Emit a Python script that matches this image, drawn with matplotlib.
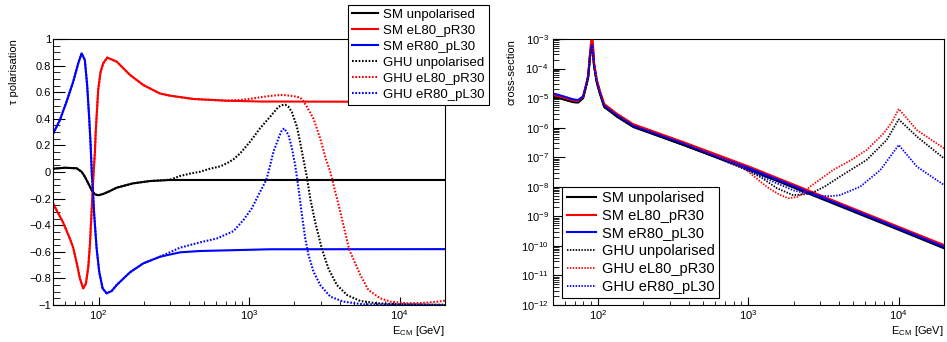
import matplotlib
matplotlib.use("Agg")
import matplotlib.pyplot as plt
from matplotlib.ticker import (LogLocator, NullFormatter, FuncFormatter,
                               MultipleLocator, LogFormatterSciNotation)

plt.rcParams['font.family'] = ['Liberation Sans', 'DejaVu Sans']
plt.rcParams['mathtext.fontset'] = 'custom'
plt.rcParams['mathtext.rm'] = 'Liberation Sans'
plt.rcParams['mathtext.it'] = 'Liberation Sans:italic'
plt.rcParams['mathtext.bf'] = 'Liberation Sans:bold'

labels = ["SM unpolarised", "SM eL80_pR30", "SM eR80_pL30",
          "GHU unpolarised", "GHU eL80_pR30", "GHU eR80_pL30"]

# ---------------- tau polarisation vs E_CM ----------------
sm_unpol_E = [50, 59.7, 71.4, 77.1, 81.0, 85.3, 89.8, 94.5, 99.4, 107.3, 118.9,
              131.8, 169.9, 219.4, 298.1, 500, 20000]
sm_unpol_P = [0.025, 0.032, 0.028, 0.002, -0.035, -0.085, -0.135, -0.168, -0.175,
              -0.165, -0.143, -0.118, -0.085, -0.068, -0.060, -0.060, -0.060]

sm_eL_E = [50, 58.1, 64.4, 67.8, 71.4, 75.1, 79.0, 82.3, 85.3, 87.5, 89.8, 92.1,
           94.5, 95.5, 97.0, 99.4, 103.1, 107.3, 114.1, 131.8, 161.6, 198.1,
           255.8, 298.1, 426.1, 710.6, 1184, 20000]
sm_eL_P = [-0.24, -0.38, -0.50, -0.57, -0.68, -0.80, -0.875, -0.84, -0.72, -0.55,
           -0.30, -0.05, 0.15, 0.28, 0.42, 0.62, 0.754, 0.817, 0.86, 0.83, 0.73,
           0.654, 0.59, 0.574, 0.549, 0.536, 0.53, 0.527]

sm_eR_E = [50, 55.3, 61.25, 67.8, 73.2, 77.1, 81.0, 83.9, 86.6, 88.5, 90.2, 91.2,
           93.5, 97.0, 100.9, 106.3, 113.0, 122.0, 131.8, 161.6, 198.1, 255.8,
           347.5, 472.1, 710.6, 1380, 20000]
sm_eR_P = [0.29, 0.391, 0.529, 0.679, 0.817, 0.892, 0.842, 0.654, 0.404, 0.203,
           -0.023, -0.098, -0.323, -0.574, -0.75, -0.875, -0.912, -0.895, -0.85,
           -0.754, -0.687, -0.637, -0.604, -0.594, -0.589, -0.581, -0.58]

ghu_unpol_E = [50, 59.7, 71.4, 77.1, 81.0, 85.3, 89.8, 94.5, 99.4, 107.3, 118.9,
               131.8, 169.9, 219.4, 298.1, 347.5, 405.1, 472.1, 550.2, 641.2,
               710.6, 786.4, 871.1, 1015, 1184, 1380, 1566, 1651, 1736, 1826,
               1924, 2077, 2184, 2298, 2421, 2546, 2749, 3046, 3370, 3832, 4467,
               5476, 7073, 10000, 20000]
ghu_unpol_P = [0.025, 0.032, 0.028, 0.002, -0.035, -0.085, -0.135, -0.168, -0.175,
               -0.165, -0.143, -0.118, -0.085, -0.068, -0.058, -0.03, -0.012,
               0.002, 0.025, 0.042, 0.065, 0.095, 0.14, 0.228, 0.33, 0.416, 0.49,
               0.502, 0.506, 0.49, 0.45, 0.34, 0.22, 0.09, -0.04, -0.2, -0.38,
               -0.58, -0.73, -0.85, -0.925, -0.97, -0.987, -0.995, -0.998]

ghu_eL_E = [50, 58.1, 64.4, 67.8, 71.4, 75.1, 79.0, 82.3, 85.3, 87.5, 89.8, 92.1,
            94.5, 95.5, 97.0, 99.4, 103.1, 107.3, 114.1, 131.8, 161.6, 198.1,
            255.8, 298.1, 426.1, 710.6, 871.1, 1015, 1184, 1380, 1608, 1736,
            1971, 2184, 2298, 2421, 2678, 2968, 3230, 3459, 3551, 4032, 4628,
            5476, 6190, 7438, 8673, 11200, 14000, 17740, 20000]
ghu_eL_P = [-0.24, -0.38, -0.50, -0.57, -0.68, -0.80, -0.875, -0.84, -0.72, -0.55,
            -0.30, -0.05, 0.15, 0.28, 0.42, 0.62, 0.754, 0.817, 0.86, 0.83, 0.73,
            0.654, 0.59, 0.574, 0.549, 0.536, 0.542, 0.55, 0.562, 0.572, 0.579,
            0.578, 0.57, 0.56, 0.53, 0.49, 0.40, 0.25, 0.10, 0.0, -0.05, -0.30,
            -0.586, -0.774, -0.887, -0.95, -0.975, -0.987, -0.985, -0.975, -0.968]

ghu_eR_E = [50, 55.3, 61.25, 67.8, 73.2, 77.1, 81.0, 83.9, 86.6, 88.5, 90.2, 91.2,
            93.5, 97.0, 100.9, 106.3, 113.0, 122.0, 131.8, 161.6, 198.1, 255.8,
            347.5, 472.1, 609.6, 786.4, 916.4, 1042, 1153, 1298, 1344, 1380,
            1451, 1566, 1651, 1710, 1826, 1924, 2023, 2128, 2242, 2358, 2480,
            2678, 2968, 3459, 4241, 5762, 20000]
ghu_eR_P = [0.29, 0.391, 0.529, 0.679, 0.817, 0.892, 0.842, 0.654, 0.404, 0.203,
            -0.023, -0.098, -0.323, -0.574, -0.75, -0.875, -0.912, -0.895, -0.85,
            -0.754, -0.687, -0.637, -0.569, -0.529, -0.50, -0.445, -0.361,
            -0.273, -0.173, -0.06, 0.0, 0.053, 0.153, 0.253, 0.316, 0.328,
            0.278, 0.178, 0.05, -0.123, -0.323, -0.5, -0.624, -0.75, -0.85,
            -0.937, -0.975, -0.995, -1.0]

# ---------------- cross-section vs E_CM ----------------
xs_sm_E = [50, 58.7, 68.4, 73.8, 79.7, 83.9, 86.1, 88.3, 90.0, 91.2, 92.4, 94.0,
           98.0, 103, 110, 120, 133, 172, 369, 1023, 3000, 10000, 20000]
xs_sm_unpol = [1.12e-5, 9.1e-6, 7.3e-6, 7.1e-6, 1.0e-5, 2.8e-5, 5.0e-5, 2.2e-4,
               4.6e-4, 5.5e-4, 4.6e-4, 1.3e-4, 3.5e-5, 1.4e-5, 5.0e-6, 3.6e-6,
               2.4e-6, 1.05e-6, 2.6e-7, 3.7e-8, 4.1e-9, 3.5e-10, 8.3e-11]
xs_sm_eL = [1.3e-5, 1.05e-5, 8.3e-6, 8.0e-6, 1.1e-5, 3.2e-5, 6.0e-5, 2.8e-4,
            8.0e-4, 1.15e-3, 8.0e-4, 1.7e-4, 4.3e-5, 1.75e-5, 6.3e-6, 4.5e-6,
            3.0e-6, 1.3e-6, 3.25e-7, 4.7e-8, 5.2e-9, 4.4e-10, 1.07e-10]
xs_sm_eR = [1.45e-5, 1.15e-5, 9.0e-6, 8.6e-6, 1.15e-5, 3.1e-5, 5.5e-5, 2.4e-4,
            5.2e-4, 6.3e-4, 5.2e-4, 1.45e-4, 3.9e-5, 1.55e-5, 5.6e-6, 4.0e-6,
            2.7e-6, 1.15e-6, 2.9e-7, 4.15e-8, 4.6e-9, 3.9e-10, 9.3e-11]

xs_ghu_unpol_E = [50, 58.7, 68.4, 73.8, 79.7, 83.9, 86.1, 88.3, 90.0, 91.2, 92.4,
                  94.0, 98.0, 103, 110, 120, 133, 172, 369, 600, 800, 1023, 1250,
                  1545, 1987, 2400, 2703, 3200, 4059, 6120, 8300, 10000, 13200,
                  20000]
xs_ghu_unpol = [1.12e-5, 9.1e-6, 7.3e-6, 7.1e-6, 1.0e-5, 2.8e-5, 5.0e-5, 2.2e-4,
                4.6e-4, 5.5e-4, 4.6e-4, 1.3e-4, 3.5e-5, 1.4e-5, 5.0e-6, 3.6e-6,
                2.4e-6, 1.05e-6, 2.6e-7, 1.0e-7, 5.6e-8, 3.3e-8, 1.9e-8, 9.0e-9,
                5.2e-9, 5.6e-9, 6.5e-9, 1.0e-8, 2.2e-8, 8.1e-8, 3.8e-7, 1.9e-6,
                5.0e-7, 9.1e-8]

xs_ghu_eL_E = [50, 58.7, 68.4, 73.8, 79.7, 83.9, 86.1, 88.3, 90.0, 91.2, 92.4,
               94.0, 98.0, 103, 110, 120, 133, 172, 369, 700, 924, 1325, 1600,
               1841, 2100, 2316, 2565, 3663, 4842, 6120, 7932, 9052, 10000,
               13200, 20000]
xs_ghu_eL = [1.3e-5, 1.05e-5, 8.3e-6, 8.0e-6, 1.1e-5, 3.2e-5, 6.0e-5, 2.8e-4,
             8.0e-4, 1.15e-3, 8.0e-4, 1.7e-4, 4.3e-5, 1.75e-5, 6.3e-6, 4.5e-6,
             3.0e-6, 1.3e-6, 3.25e-7, 8.5e-8, 4.5e-8, 1.0e-8, 5.5e-9, 4.1e-9,
             4.5e-9, 6.0e-9, 1.0e-8, 3.7e-8, 8.1e-8, 1.76e-7, 6.4e-7, 1.6e-6,
             4.3e-6, 8.3e-7, 2.0e-7]

xs_ghu_eR_E = [50, 58.7, 68.4, 73.8, 79.7, 83.9, 86.1, 88.3, 90.0, 91.2, 92.4,
               94.0, 98.0, 103, 110, 120, 133, 172, 369, 1023, 1500, 2000, 2500,
               2850, 3500, 4059, 5534, 7553, 10000, 13200, 20000]
xs_ghu_eR = [1.45e-5, 1.15e-5, 9.0e-6, 8.6e-6, 1.15e-5, 3.1e-5, 5.5e-5, 2.4e-4,
             5.2e-4, 6.3e-4, 5.2e-4, 1.45e-4, 3.9e-5, 1.55e-5, 5.6e-6, 4.0e-6,
             2.7e-6, 1.15e-6, 2.9e-7, 3.5e-8, 1.4e-8, 7.5e-9, 5.8e-9, 5.0e-9,
             4.8e-9, 5.2e-9, 1.0e-8, 3.7e-8, 2.6e-7, 4.8e-8, 1.15e-8]

W, H = 947, 342
fig = plt.figure(figsize=(W / 100, H / 100), dpi=100)
ax1 = fig.add_axes([53.3 / W, 1 - 305 / H, 391.7 / W, 266 / H])
ax2 = fig.add_axes([552.7 / W, 1 - 305 / H, 391.3 / W, 266 / H])

dot = (0, (0.8, 0.8))
styles = [dict(color='black', ls='-'), dict(color='red', ls='-'),
          dict(color='blue', ls='-'), dict(color='black', ls=dot),
          dict(color='red', ls=dot), dict(color='blue', ls=dot)]

left_series = [(sm_unpol_E, sm_unpol_P), (sm_eL_E, sm_eL_P), (sm_eR_E, sm_eR_P),
               (ghu_unpol_E, ghu_unpol_P), (ghu_eL_E, ghu_eL_P),
               (ghu_eR_E, ghu_eR_P)]
right_series = [(xs_sm_E, xs_sm_unpol), (xs_sm_E, xs_sm_eL), (xs_sm_E, xs_sm_eR),
                (xs_ghu_unpol_E, xs_ghu_unpol), (xs_ghu_eL_E, xs_ghu_eL),
                (xs_ghu_eR_E, xs_ghu_eR)]

h1, h2 = [], []
for (x, y), st, lab in zip(left_series, styles, labels):
    h1.append(ax1.plot(x, y, lw=1.5, label=lab, **st)[0])
for (x, y), st, lab in zip(right_series, styles, labels):
    lw = 1.5 if st['ls'] == '-' else 1.3
    h2.append(ax2.plot(x, y, lw=lw, label=lab, **st)[0])

for ax in (ax1, ax2):
    ax.set_xscale('log')
    ax.set_xlim(50, 20000)
    ax.xaxis.set_major_locator(LogLocator(base=10, numticks=10))
    ax.xaxis.set_minor_locator(LogLocator(base=10, subs=range(2, 10), numticks=50))
    ax.xaxis.set_minor_formatter(NullFormatter())
    ax.tick_params(which='both', direction='in', top=False, right=False,
                   labelsize=8, color='black')
    ax.tick_params(axis='x', which='major', length=6, pad=2)
    ax.tick_params(axis='x', which='minor', length=3)
    for s in ax.spines.values():
        s.set_linewidth(0.8)
    ax.set_xlabel(r'E$_{\mathrm{CM}}$ [GeV]', fontsize=8, loc='right')
    ax.xaxis.set_label_coords(1.0, -0.07)

ax1.set_ylim(-1, 1)
ax1.yaxis.set_major_locator(MultipleLocator(0.2))
ax1.yaxis.set_minor_locator(MultipleLocator(0.05))
ax1.yaxis.set_major_formatter(FuncFormatter(
    lambda v, p: ('%g' % round(v, 2)).replace('-', '\u2212') if abs(v) > 1e-9 else '0'))
ax1.tick_params(axis='y', which='major', length=8.4, pad=1.5)
ax1.tick_params(axis='y', which='minor', length=4.8)
ax1.set_ylabel('τ polarisation', fontsize=8, loc='top')
ax1.yaxis.set_label_coords(-0.0868, 1.0)

ax2.set_yscale('log')
ax2.set_ylim(1e-12, 1e-3)
ax2.yaxis.set_major_locator(LogLocator(base=10, numticks=20))
ax2.yaxis.set_minor_locator(LogLocator(base=10, subs=range(2, 10), numticks=100))
ax2.yaxis.set_minor_formatter(NullFormatter())
ax2.yaxis.set_major_formatter(LogFormatterSciNotation())
ax2.tick_params(axis='y', which='major', length=8.4, pad=3)
ax2.tick_params(axis='y', which='minor', length=4.3)
ax2.set_ylabel('cross-section', fontsize=8, loc='top')
ax2.yaxis.set_label_coords(-0.092, 1.0)

leg_kw = dict(loc='lower left', frameon=True, fancybox=False, edgecolor='black',
              framealpha=1, borderaxespad=0, handlelength=2.0,
              handletextpad=0.4, bbox_transform=fig.transFigure)
leg1 = fig.legend(handles=h1, labels=labels, fontsize=9.5,
                  bbox_to_anchor=(347.7 / W, 1 - 104.7 / H),
                  borderpad=0.3, labelspacing=0.28, **leg_kw)
leg2 = fig.legend(handles=h2, labels=labels, fontsize=10.5,
                  bbox_to_anchor=(562.3 / W, 1 - 298.3 / H),
                  borderpad=0.3, labelspacing=0.26, **leg_kw)
for lg in (leg1, leg2):
    lg.get_frame().set_linewidth(0.8)

fig.savefig('out.png', dpi=100)
